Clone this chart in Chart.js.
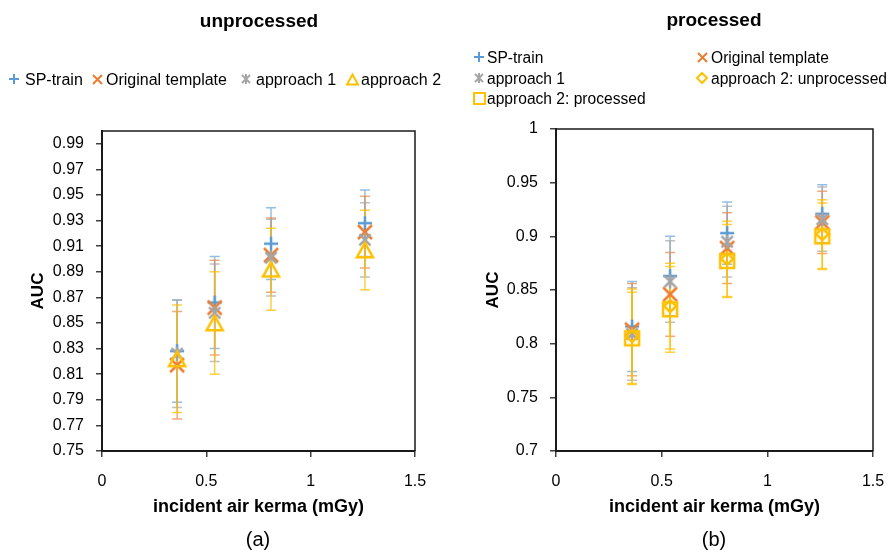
<!DOCTYPE html>
<html><head><meta charset="utf-8">
<script src="https://cdn.jsdelivr.net/npm/chart.js@4.4.1/dist/chart.umd.min.js"></script>
<style>
html,body{margin:0;padding:0;background:#fff;}
#wrap{position:relative;width:888px;height:554px;overflow:hidden;background:#fff;}
#wrap canvas{position:absolute;top:0;}
</style>
</head><body>
<div id="wrap">
<canvas id="c1" width="444" height="554" style="left:0px"></canvas>
<canvas id="c2" width="444" height="554" style="left:444px"></canvas>
</div>
<script>
// ---------------- DATA ----------------
const doseX = [0.36, 0.54, 0.81, 1.26];
const xTickValues = [0, 0.5, 1, 1.5];
const leftYTicks = [0.75, 0.77, 0.79, 0.81, 0.83, 0.85, 0.87, 0.89, 0.91, 0.93, 0.95, 0.97, 0.99];
const rightYTicks = [0.7, 0.75, 0.8, 0.85, 0.9, 0.95, 1];

// (a) unprocessed
const leftTitle = 'unprocessed';
const leftNames = ['SP-train', 'Original template', 'approach 1', 'approach 2'];
const uSPtrain = [0.828, 0.866, 0.912, 0.928];
const uSPtrainErr = [0.040, 0.036, 0.028, 0.026];
const uOriginal = [0.817, 0.862, 0.903, 0.921];
const uOriginalErr = [0.042, 0.037, 0.029, 0.028];
const uApproach1 = [0.826, 0.858, 0.901, 0.915];
const uApproach1Err = [0.042, 0.038, 0.030, 0.029];
const uApproach2 = [0.822, 0.850, 0.892, 0.907];
const uApproach2Err = [0.042, 0.040, 0.032, 0.031];

// (b) processed
const rightTitle = 'processed';
const rightNames = ['SP-train', 'Original template', 'approach 1', 'approach 2: unprocessed', 'approach 2: processed'];
const pSPtrain = [0.816, 0.863, 0.903, 0.921];
const pSPtrainErr = [0.042, 0.037, 0.029, 0.027];
const pOriginal = [0.813, 0.846, 0.889, 0.913];
const pOriginalErr = [0.043, 0.039, 0.033, 0.029];
const pApproach1 = [0.809, 0.858, 0.895, 0.916];
const pApproach1Err = [0.043, 0.038, 0.033, 0.030];
const pApproach2Unproc = [0.807, 0.835, 0.879, 0.902];
const pApproach2UnprocErr = [0.044, 0.040, 0.035, 0.032];
const pApproach2Proc = [0.805, 0.832, 0.877, 0.900];
const pApproach2ProcErr = [0.043, 0.040, 0.034, 0.031];

const xAxisTitle = 'incident air kerma (mGy)';
const yAxisTitle = 'AUC';

// ---------------- STYLE ----------------
const FONT = '"Liberation Sans", Arial, sans-serif';
const BLUE = '#5B9BD5', ORANGE = '#ED7D31', GRAY = '#A5A5A5', YELLOW = '#FFC000';
const BLUE_E = 'rgba(91,155,213,0.65)', ORANGE_E = 'rgba(237,125,49,0.65)', GRAY_E = 'rgba(165,165,165,0.7)', YELLOW_E = 'rgba(255,192,0,0.75)';

function mk(type, color, s, lw) {
  const pad = Math.ceil(lw) + 1;
  const n = s + 2 * pad;
  const c = document.createElement('canvas');
  c.width = n; c.height = n;
  const g = c.getContext('2d');
  g.strokeStyle = color; g.lineWidth = lw; g.lineJoin = 'miter';
  const m = n / 2, r = s / 2;
  g.beginPath();
  if (type === 'plus') {
    g.moveTo(m - r, m); g.lineTo(m + r, m); g.moveTo(m, m - r); g.lineTo(m, m + r);
  } else if (type === 'x') {
    g.moveTo(m - r, m - r); g.lineTo(m + r, m + r); g.moveTo(m + r, m - r); g.lineTo(m - r, m + r);
  } else if (type === 'ast') {
    const q = r * 0.8;
    g.moveTo(m - q, m - q); g.lineTo(m + q, m + q); g.moveTo(m + q, m - q); g.lineTo(m - q, m + q);
    g.moveTo(m, m - r); g.lineTo(m, m + r);
  } else if (type === 'tri') {
    const h = s * 0.9;
    g.moveTo(m, m - h / 2); g.lineTo(m + r, m + h / 2); g.lineTo(m - r, m + h / 2); g.closePath();
  } else if (type === 'diamond') {
    g.moveTo(m, m - r); g.lineTo(m + r, m); g.lineTo(m, m + r); g.lineTo(m - r, m); g.closePath();
  } else if (type === 'square') {
    g.rect(m - r, m - r, s, s);
  }
  g.stroke();
  return c;
}

const markers = {
  plus: mk('plus', BLUE, 14, 2.5), x: mk('x', ORANGE, 14, 2.5), ast: mk('ast', GRAY, 14, 2.5),
  tri: mk('tri', YELLOW, 16, 2.5), diamond: mk('diamond', YELLOW, 12, 2.5), square: mk('square', YELLOW, 14, 2.5)
};
const legendMarkers = {
  plus: mk('plus', BLUE, 10, 2), x: mk('x', ORANGE, 9, 2), ast: mk('ast', GRAY, 10, 2),
  tri: mk('tri', YELLOW, 11, 2), diamond: mk('diamond', YELLOW, 10, 2), square: mk('square', YELLOW, 11, 2)
};

// ---------------- PLUGINS ----------------
const errorBarPlugin = {
  id: 'errorBars',
  beforeDatasetsDraw(chart) {
    const ctx = chart.ctx, xs = chart.scales.x, ys = chart.scales.y;
    chart.data.datasets.forEach(ds => {
      ctx.save();
      ctx.strokeStyle = ds.errColor; ctx.lineWidth = 1.5;
      ds.data.forEach((p, j) => {
        const e = ds.errors[j];
        const x = xs.getPixelForValue(p.x);
        const yt = ys.getPixelForValue(p.y + e), yb = ys.getPixelForValue(p.y - e);
        ctx.beginPath();
        ctx.moveTo(x, yt); ctx.lineTo(x, yb);
        ctx.moveTo(x - 5, yt); ctx.lineTo(x + 5, yt);
        ctx.moveTo(x - 5, yb); ctx.lineTo(x + 5, yb);
        ctx.stroke();
      });
      ctx.restore();
    });
  }
};

const decorPlugin = {
  id: 'decor',
  beforeDatasetsDraw(chart, args, o) {
    const ctx = chart.ctx, a = chart.chartArea;
    ctx.save();
    ctx.strokeStyle = '#1a1a1a'; ctx.lineWidth = 1.5;
    ctx.beginPath();
    ctx.moveTo(a.left, a.top); ctx.lineTo(a.right, a.top); ctx.lineTo(a.right, a.bottom);
    ctx.stroke();
    ctx.restore();
  },
  afterDraw(chart, args, o) {
    const ctx = chart.ctx;
    ctx.save();
    ctx.fillStyle = '#000';
    ctx.textAlign = 'center'; ctx.textBaseline = 'alphabetic';
    ctx.font = 'bold 19px ' + FONT;
    ctx.fillText(o.title, o.titleX, o.titleY);
    ctx.font = '20px ' + FONT;
    ctx.fillText(o.caption, o.captionX, o.captionY);
    ctx.textAlign = 'left';
    ctx.font = o.legendFontSize + 'px ' + FONT;
    o.legend.forEach(it => {
      const m = legendMarkers[it.marker];
      ctx.drawImage(m, Math.round(it.mx - m.width / 2), Math.round(it.my - m.height / 2));
      ctx.fillText(it.text, it.tx, it.my + 5.5);
    });
    ctx.restore();
  }
};

function build(id, cfg) {
  const n = cfg.series.length;
  const datasets = cfg.series.map((s, i) => ({
    label: s.name,
    data: doseX.map((x, j) => ({ x: x, y: s.values[j] })),
    errors: s.errors,
    errColor: s.errColor,
    pointStyle: markers[s.marker],
    pointRadius: 8,
    showLine: false,
    order: n - i
  }));
  const tickFont = { family: FONT, size: 16 };
  return new Chart(document.getElementById(id), {
    type: 'scatter',
    data: { datasets },
    options: {
      responsive: false, animation: false, devicePixelRatio: 1,
      layout: { padding: cfg.padding },
      plugins: {
        legend: { display: false }, tooltip: { enabled: false }, title: { display: false },
        decor: cfg.decor
      },
      scales: {
        x: {
          type: 'linear', min: 0, max: 1.5,
          afterBuildTicks: sc => { sc.ticks = xTickValues.map(v => ({ value: v })); },
          afterFit: sc => { sc.height = cfg.xHeight; sc.paddingLeft = 0; sc.paddingRight = 0; },
          ticks: { autoSkip: false, maxRotation: 0, padding: 15, font: tickFont, color: '#000', callback: v => String(v) },
          grid: { drawOnChartArea: false, drawTicks: true, tickLength: 6, color: '#404040', lineWidth: 1.5 },
          border: { display: true, color: '#1a1a1a', width: 2 },
          title: { display: true, text: xAxisTitle, color: '#000', font: { family: FONT, size: 18, weight: 'bold' }, padding: { top: 4, bottom: 4 } }
        },
        y: {
          type: 'linear', min: cfg.yMin, max: cfg.yMax,
          afterBuildTicks: sc => { sc.ticks = cfg.yTicks.map(v => ({ value: v })); },
          afterFit: sc => { sc.width = cfg.yWidth; sc.paddingTop = 0; sc.paddingBottom = 0; },
          ticks: { autoSkip: false, padding: 12, font: tickFont, color: '#000', callback: v => String(v) },
          grid: { drawOnChartArea: false, drawTicks: true, tickLength: 6, color: '#404040', lineWidth: 1.5 },
          border: { display: true, color: '#1a1a1a', width: 2 },
          title: { display: true, text: yAxisTitle, color: '#000', font: { family: FONT, size: 17, weight: 'bold' }, padding: { top: 4, bottom: 4 } }
        }
      }
    },
    plugins: [errorBarPlugin, decorPlugin]
  });
}

build('c1', {
  series: [
    { name: leftNames[0], values: uSPtrain, errors: uSPtrainErr, marker: 'plus', errColor: BLUE_E },
    { name: leftNames[1], values: uOriginal, errors: uOriginalErr, marker: 'x', errColor: ORANGE_E },
    { name: leftNames[2], values: uApproach1, errors: uApproach1Err, marker: 'ast', errColor: GRAY_E },
    { name: leftNames[3], values: uApproach2, errors: uApproach2Err, marker: 'tri', errColor: YELLOW_E }
  ],
  yMin: 0.75, yMax: 1.0, yTicks: leftYTicks,
  padding: { top: 131, right: 29, left: 24, bottom: 32 },
  yWidth: 78, xHeight: 71,
  decor: {
    title: leftTitle, titleX: 259, titleY: 27,
    caption: '(a)', captionX: 258, captionY: 546,
    legendFontSize: 16,
    legend: [
      { marker: 'plus', mx: 14, my: 79, tx: 25, text: leftNames[0] },
      { marker: 'x', mx: 97, my: 79, tx: 106, text: leftNames[1] },
      { marker: 'ast', mx: 246, my: 79, tx: 256, text: leftNames[2] },
      { marker: 'tri', mx: 352, my: 79, tx: 361, text: leftNames[3] }
    ]
  }
});

build('c2', {
  series: [
    { name: rightNames[0], values: pSPtrain, errors: pSPtrainErr, marker: 'plus', errColor: BLUE_E },
    { name: rightNames[1], values: pOriginal, errors: pOriginalErr, marker: 'x', errColor: ORANGE_E },
    { name: rightNames[2], values: pApproach1, errors: pApproach1Err, marker: 'ast', errColor: GRAY_E },
    { name: rightNames[3], values: pApproach2Unproc, errors: pApproach2UnprocErr, marker: 'diamond', errColor: YELLOW_E },
    { name: rightNames[4], values: pApproach2Proc, errors: pApproach2ProcErr, marker: 'square', errColor: YELLOW_E }
  ],
  yMin: 0.7, yMax: 1.0, yTicks: rightYTicks,
  padding: { top: 129, right: 15, left: 35, bottom: 32 },
  yWidth: 77, xHeight: 71,
  decor: {
    title: rightTitle, titleX: 270, titleY: 26,
    caption: '(b)', captionX: 270, captionY: 546,
    legendFontSize: 15.6,
    legend: [
      { marker: 'plus', mx: 35, my: 57, tx: 43, text: rightNames[0] },
      { marker: 'x', mx: 258, my: 57, tx: 267, text: rightNames[1] },
      { marker: 'ast', mx: 35, my: 78, tx: 43, text: rightNames[2] },
      { marker: 'diamond', mx: 258, my: 78, tx: 267, text: rightNames[3] },
      { marker: 'square', mx: 35, my: 98, tx: 43, text: rightNames[4] }
    ]
  }
});
</script>
</body></html>
